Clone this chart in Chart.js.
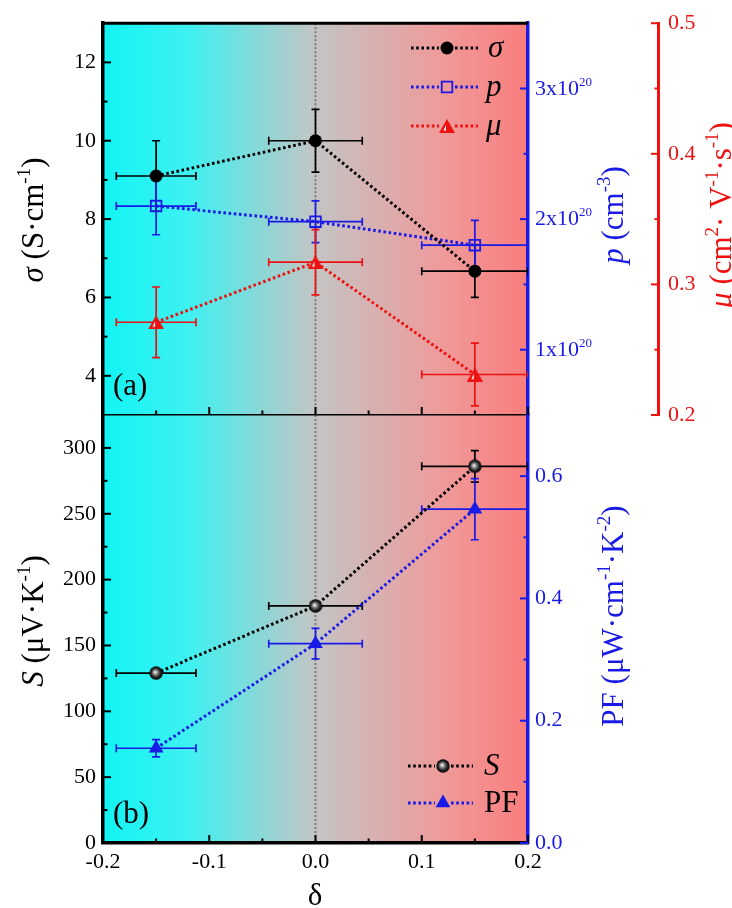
<!DOCTYPE html>
<html>
<head>
<meta charset="utf-8">
<script src="https://cdn.jsdelivr.net/npm/chart.js@4.4.0/dist/chart.umd.min.js"></script>
<style>
body { margin: 0; background: #fff; }
#wrap { position: relative; width: 732px; height: 908px; }
#wrap canvas { position: absolute; left: 0; top: 0; }
</style>
</head>
<body>
<div id="wrap">
	<canvas id="chartB" width="732" height="908"></canvas>
	<canvas id="chartA" width="732" height="440"></canvas>
</div>
<script>
// delta (x) values, shared by all series
var deltaVals = [-0.15, 0.0, 0.15];
var deltaErr = [0.0375, 0.044, 0.05];

// panel (a)
var sigmaVals = [9.1, 10.0, 6.67];
var sigmaErr = [0.9, 0.8, 0.67];
var pVals = [2.1e20, 1.98e20, 1.8e20];
var pErr = [0.22e20, 0.16e20, 0.19e20];
var muVals = [0.271, 0.317, 0.231];
var muErr = [0.027, 0.025, 0.024];

// panel (b)
var seebeckVals = [129, 180, 286];
var seebeckErr = [0, 0, 12];
var pfVals = [0.155, 0.326, 0.546];
var pfErr = [0.014, 0.025, 0.05];

// ticks
var deltaTicks = [-0.2, -0.1, 0, 0.1, 0.2];
var deltaMinor = [-0.15, -0.05, 0.05, 0.15];
var sigmaTicks = [4, 6, 8, 10, 12];
var sigmaMinor = [5, 7, 9, 11];
var pTicks = [1e20, 2e20, 3e20];
var pMinor = [1.5e20, 2.5e20];
var muTicks = [0.2, 0.3, 0.4, 0.5];
var muMinor = [0.25, 0.35, 0.45];
var seebeckTicks = [0, 50, 100, 150, 200, 250, 300];
var seebeckMinor = [25, 75, 125, 175, 225, 275];
var pfTicks = [0, 0.2, 0.4, 0.6];
var pfMinor = [0.1, 0.3, 0.5];

var BLUE = '#1a1ae6';
var RED = '#ee1111';
var SERIF = '"Liberation Serif", "Times New Roman", serif';

var pts = function(ys) {
	return deltaVals.map(function(x, i) { return {x: x, y: ys[i]}; });
};

// marker images
var halfTriangle = function(w, h, color) {
	var c = document.createElement('canvas');
	c.width = w; c.height = h;
	var g = c.getContext('2d');
	g.fillStyle = color;
	g.beginPath(); g.moveTo(w / 2, 0); g.lineTo(w, h); g.lineTo(0, h); g.closePath(); g.fill();
	g.fillStyle = '#fff';
	g.beginPath(); g.moveTo(w / 2 - 1, h * 0.45); g.lineTo(w / 2 - 1, h - 2.5); g.lineTo(4.5, h - 2.5); g.closePath(); g.fill();
	return c;
};
var sphere = function(d) {
	var c = document.createElement('canvas');
	c.width = d; c.height = d;
	var g = c.getContext('2d');
	var r = d / 2;
	var grd = g.createRadialGradient(r - 1, r - 1, 0.3, r, r, r);
	grd.addColorStop(0, '#f2f2f2');
	grd.addColorStop(0.3, '#8a8a8a');
	grd.addColorStop(0.65, '#222');
	grd.addColorStop(1, '#000');
	g.fillStyle = grd;
	g.beginPath(); g.arc(r, r, r - 0.3, 0, Math.PI * 2); g.fill();
	return c;
};
var muMarker = halfTriangle(16, 14, RED);
var sMarker = sphere(14);

// text with italic / superscript pieces
var fontFor = function(p, size) {
	return (p.it ? 'italic ' : '') + (p.sup ? Math.round(size * 0.6) : size) + 'px ' + SERIF;
};
var richText = function(ctx, parts, x, y, rot, size, color, align) {
	ctx.save();
	ctx.translate(x, y);
	ctx.rotate(rot);
	var w = 0;
	parts.forEach(function(p) { ctx.font = fontFor(p, size); w += ctx.measureText(p.t).width; });
	var cx = align === 'left' ? 0 : -w / 2;
	ctx.fillStyle = color;
	ctx.textAlign = 'left';
	ctx.textBaseline = 'alphabetic';
	parts.forEach(function(p) {
		ctx.font = fontFor(p, size);
		ctx.fillText(p.t, cx, p.sup ? size * 0.33 - size * 0.42 : size * 0.33);
		cx += ctx.measureText(p.t).width;
	});
	ctx.restore();
};

var drawMarker = function(ctx, ds, x, y) {
	var st = ds.pointStyle;
	if (typeof st !== 'string') {
		ctx.drawImage(st, x - st.width / 2, y - st.height / 2);
		return;
	}
	var r = ds.pointRadius;
	ctx.save();
	ctx.fillStyle = ds.pointBackgroundColor;
	ctx.strokeStyle = ds.pointBorderColor;
	ctx.lineWidth = ds.pointBorderWidth;
	ctx.beginPath();
	if (st === 'circle') {
		ctx.arc(x, y, r, 0, Math.PI * 2);
	} else if (st === 'rect') {
		var h = r * Math.SQRT1_2;
		ctx.rect(x - h, y - h, h * 2, h * 2);
	} else if (st === 'triangle') {
		ctx.moveTo(x, y - r);
		ctx.lineTo(x + r * 0.866, y + r * 0.5);
		ctx.lineTo(x - r * 0.866, y + r * 0.5);
		ctx.closePath();
	}
	ctx.fill();
	if (ds.pointBorderWidth > 0) ctx.stroke();
	ctx.restore();
};

var panelPlugin = {
	id: 'panel',
	beforeDraw: function(chart) {
		var ctx = chart.ctx, a = chart.chartArea;
		// background gradient
		ctx.save();
		var grd = ctx.createLinearGradient(a.left, 0, a.right, 0);
		grd.addColorStop(0, '#12f4f4');
		grd.addColorStop(0.2, '#3ef1f1');
		grd.addColorStop(0.5, '#c4c4c4');
		grd.addColorStop(0.8, '#ef9a9a');
		grd.addColorStop(1, '#fa7d7d');
		ctx.fillStyle = grd;
		ctx.fillRect(a.left, a.top, a.right - a.left, a.bottom - a.top);
		ctx.restore();
	},
	beforeDatasetsDraw: function(chart, args, opts) {
		var ctx = chart.ctx, a = chart.chartArea;
		ctx.save();
		// reference line at delta = 0
		var x0 = chart.scales.x.getPixelForValue(0);
		ctx.strokeStyle = '#7a7a7a';
		ctx.lineWidth = 2;
		ctx.setLineDash([2, 2]);
		ctx.beginPath(); ctx.moveTo(x0, a.top); ctx.lineTo(x0, a.bottom); ctx.stroke();
		ctx.setLineDash([]);
		// error bars
		ctx.beginPath(); ctx.rect(a.left, a.top, a.right - a.left, a.bottom - a.top); ctx.clip();
		chart.data.datasets.forEach(function(ds) {
			var ys = chart.scales[ds.yAxisID];
			var xs = chart.scales.x;
			ctx.strokeStyle = ds.errColor;
			ctx.lineWidth = 1.7;
			ds.data.forEach(function(pt, i) {
				var px = xs.getPixelForValue(pt.x), py = ys.getPixelForValue(pt.y);
				var xl = xs.getPixelForValue(pt.x - ds.errX[i]), xr = xs.getPixelForValue(pt.x + ds.errX[i]);
				ctx.beginPath();
				ctx.moveTo(xl, py); ctx.lineTo(xr, py);
				ctx.moveTo(xl, py - 4); ctx.lineTo(xl, py + 4);
				ctx.moveTo(xr, py - 4); ctx.lineTo(xr, py + 4);
				if (ds.errY[i] > 0) {
					var yt = ys.getPixelForValue(pt.y + ds.errY[i]), yb = ys.getPixelForValue(pt.y - ds.errY[i]);
					ctx.moveTo(px, yt); ctx.lineTo(px, yb);
					ctx.moveTo(px - 4, yt); ctx.lineTo(px + 4, yt);
					ctx.moveTo(px - 4, yb); ctx.lineTo(px + 4, yb);
				}
				ctx.stroke();
			});
		});
		ctx.restore();
	},
	afterDraw: function(chart, args, opts) {
		var ctx = chart.ctx, a = chart.chartArea;
		ctx.save();
		// inward ticks
		(opts.ticks || []).forEach(function(t) {
			var s = chart.scales[t.id];
			ctx.strokeStyle = t.color;
			ctx.lineWidth = 2;
			var mark = function(v, len) {
				var p = s.getPixelForValue(v);
				ctx.beginPath();
				if (t.side === 'left') { ctx.moveTo(a.left, p); ctx.lineTo(a.left + len, p); }
				else if (t.side === 'right') { ctx.moveTo(a.right, p); ctx.lineTo(a.right - len, p); }
				else if (t.side === 'outer') { ctx.moveTo(s.left, p); ctx.lineTo(s.left - len + 1, p); }
				else { ctx.moveTo(p, a.bottom); ctx.lineTo(p, a.bottom - len); }
				ctx.stroke();
			};
			t.major.forEach(function(v) { mark(v, 8); });
			t.minor.forEach(function(v) { mark(v, 4.5); });
		});
		// labels with superscript exponent
		if (opts.expLabels) {
			var es = chart.scales[opts.expLabels.id];
			opts.expLabels.values.forEach(function(v) {
				richText(ctx, [{t: Math.round(v / 1e20) + 'x10'}, {t: '20', sup: true}],
					a.right + 7, es.getPixelForValue(v) - 1, 0, 22, BLUE, 'left');
			});
		}
		// top frame
		if (opts.topBorder) {
			ctx.strokeStyle = '#000';
			ctx.lineWidth = 3;
			ctx.beginPath(); ctx.moveTo(a.left - 1.5, a.top); ctx.lineTo(a.right, a.top); ctx.stroke();
		}
		// legend
		(opts.legend || []).forEach(function(it) {
			var ds = chart.data.datasets[it.index];
			ctx.strokeStyle = ds.borderColor;
			ctx.lineWidth = ds.borderWidth;
			ctx.setLineDash(ds.borderDash);
			ctx.beginPath();
			ctx.moveTo(it.x0, it.y); ctx.lineTo(it.xm - 8, it.y);
			ctx.moveTo(it.xm + 8, it.y); ctx.lineTo(it.x1, it.y);
			ctx.stroke();
			ctx.setLineDash([]);
			drawMarker(ctx, ds, it.xm, it.y);
			ctx.font = (it.it ? 'italic ' : '') + '31px ' + SERIF;
			ctx.fillStyle = '#000';
			ctx.textAlign = 'left';
			ctx.textBaseline = 'middle';
			ctx.fillText(it.text, it.tx, it.y + 1);
		});
		// panel label
		ctx.font = '31px ' + SERIF;
		ctx.fillStyle = '#000';
		ctx.textAlign = 'left';
		ctx.textBaseline = 'middle';
		ctx.fillText(opts.label, a.left + 10, opts.labelY);
		// axis titles
		(opts.titles || []).forEach(function(tt) {
			richText(ctx, tt.parts, tt.x, tt.y, tt.rot, tt.size || 31, tt.color);
		});
		ctx.restore();
	}
};

var yAxis = function(pos, min, max, color, bw, width, list, fmt, pad, hideLabels) {
	return {
		type: 'linear',
		position: pos,
		min: min,
		max: max,
		grid: { display: false, drawTicks: false },
		border: { display: true, color: color, width: bw },
		ticks: {
			color: hideLabels ? 'rgba(0,0,0,0)' : color,
			padding: pad,
			autoSkip: false,
			font: { family: SERIF, size: 22 },
			callback: fmt
		},
		afterBuildTicks: function(s) { s.ticks = list.map(function(v) { return {value: v}; }); },
		afterFit: function(s) { s.width = width; }
	};
};

var lineSet = function(label, data, axis, color, style, radius, bg, bw, errY) {
	return {
		label: label,
		data: data,
		yAxisID: axis,
		borderColor: color,
		borderWidth: 3,
		borderDash: [2.6, 2.6],
		tension: 0,
		pointStyle: style,
		pointRadius: radius,
		pointBackgroundColor: bg,
		pointBorderColor: color,
		pointBorderWidth: bw,
		errColor: color,
		errX: deltaErr,
		errY: errY
	};
};

var baseOpts = function() {
	return {
		responsive: false,
		animation: false,
		events: [],
		plugins: { legend: { display: false }, tooltip: { enabled: false } }
	};
};

// ---- panel (a)
var optsA = baseOpts();
optsA.layout = { padding: { top: 17, bottom: 25, left: 0, right: 0 } };
optsA.scales = {
	x: {
		type: 'linear', position: 'bottom', min: -0.2, max: 0.2,
		grid: { display: false, drawTicks: false },
		border: { display: true, color: '#000', width: 1.5 },
		ticks: { display: false },
		afterFit: function(s) { s.height = 0; }
	},
	ySig: yAxis('left', 3, 13, '#000', 3.5, 103, sigmaTicks, function(v) { return String(v); }, 7),
	yP: yAxis('right', 0.5e20, 3.5e20, BLUE, 3.5, 130, pTicks, function(v) { return Math.round(v / 1e20) + 'x10^20'; }, 7, true),
	yM: yAxis('right', 0.2, 0.5, RED, 3, 74, muTicks, function(v) { return v.toFixed(1); }, 10)
};
optsA.plugins.panel = {
	topBorder: true,
	label: '(a)',
	labelY: 387,
	expLabels: { id: 'yP', values: pTicks },
	ticks: [
		{ id: 'x', side: 'bottom', color: '#000', major: deltaTicks, minor: deltaMinor },
		{ id: 'ySig', side: 'left', color: '#000', major: sigmaTicks, minor: sigmaMinor },
		{ id: 'yP', side: 'right', color: BLUE, major: pTicks, minor: pMinor },
		{ id: 'yM', side: 'outer', color: RED, major: muTicks, minor: muMinor }
	],
	legend: [
		{ index: 0, y: 48, x0: 411, xm: 447, x1: 478, tx: 488, text: '\u03C3', it: true },
		{ index: 1, y: 87, x0: 411, xm: 447, x1: 478, tx: 486, text: 'p', it: true },
		{ index: 2, y: 126, x0: 411, xm: 447, x1: 478, tx: 486, text: '\u03BC', it: true }
	],
	titles: [
		{ x: 33, y: 220, rot: -Math.PI / 2, color: '#000', parts: [{t: '\u03C3', it: true}, {t: ' (S\u00B7cm'}, {t: '-1', sup: true}, {t: ')'}] },
		{ x: 613, y: 215, rot: -Math.PI / 2, color: BLUE, parts: [{t: 'p', it: true}, {t: ' (cm'}, {t: '-3', sup: true}, {t: ')'}] },
		{ x: 721, y: 215, rot: -Math.PI / 2, color: RED, parts: [{t: '\u03BC', it: true}, {t: ' (cm'}, {t: '2', sup: true}, {t: '\u00B7 V'}, {t: '-1', sup: true}, {t: '\u00B7s'}, {t: '-1', sup: true}, {t: ')'}] }
	]
};

var chartA = new Chart(document.getElementById('chartA'), {
	type: 'line',
	data: {
		datasets: [
			lineSet('\u03C3', pts(sigmaVals), 'ySig', '#000', 'circle', 6.5, '#000', 0, sigmaErr),
			lineSet('p', pts(pVals), 'yP', BLUE, 'rect', 7.5, 'rgba(0,0,0,0)', 1.8, pErr),
			lineSet('\u03BC', pts(muVals), 'yM', RED, muMarker, 7, RED, 0, muErr)
		]
	},
	options: optsA,
	plugins: [panelPlugin]
});

// ---- panel (b)
var optsB = baseOpts();
optsB.layout = { padding: { top: 415, bottom: 0, left: 0, right: 74 } };
optsB.scales = {
	x: {
		type: 'linear', position: 'bottom', min: -0.2, max: 0.2,
		grid: { display: false, drawTicks: false },
		border: { display: true, color: '#000', width: 3.5 },
		ticks: {
			color: '#000', padding: 6, autoSkip: false, maxRotation: 0,
			font: { family: SERIF, size: 22 },
			callback: function(v) { return v.toFixed(1); }
		},
		afterBuildTicks: function(s) { s.ticks = deltaTicks.map(function(v) { return {value: v}; }); },
		afterFit: function(s) { s.height = 65; }
	},
	ySee: yAxis('left', 0, 325, '#000', 3.5, 103, seebeckTicks, function(v) { return String(v); }, 7),
	yPF: yAxis('right', 0, 0.7, BLUE, 3.5, 130, pfTicks, function(v) { return v.toFixed(1); }, 7)
};
optsB.plugins.panel = {
	topBorder: false,
	label: '(b)',
	labelY: 815,
	ticks: [
		{ id: 'x', side: 'bottom', color: '#000', major: deltaTicks, minor: deltaMinor },
		{ id: 'ySee', side: 'left', color: '#000', major: seebeckTicks, minor: seebeckMinor },
		{ id: 'yPF', side: 'right', color: BLUE, major: pfTicks, minor: pfMinor }
	],
	legend: [
		{ index: 0, y: 766, x0: 408, xm: 443, x1: 473, tx: 484, text: 'S', it: true },
		{ index: 1, y: 803, x0: 408, xm: 443, x1: 473, tx: 484, text: 'PF', it: false }
	],
	titles: [
		{ x: 33, y: 621, rot: -Math.PI / 2, color: '#000', parts: [{t: 'S', it: true}, {t: ' (\u03BCV\u00B7K'}, {t: '-1', sup: true}, {t: ')'}] },
		{ x: 613, y: 616, rot: -Math.PI / 2, color: BLUE, parts: [{t: 'PF (\u03BCW\u00B7cm'}, {t: '-1', sup: true}, {t: '\u00B7K'}, {t: '-2', sup: true}, {t: ')'}] },
		{ x: 315, y: 895, rot: 0, color: '#000', parts: [{t: '\u03B4'}] }
	]
};

var chartB = new Chart(document.getElementById('chartB'), {
	type: 'line',
	data: {
		datasets: [
			lineSet('S', pts(seebeckVals), 'ySee', '#000', sMarker, 7, '#000', 0, seebeckErr),
			lineSet('PF', pts(pfVals), 'yPF', BLUE, 'triangle', 8.5, BLUE, 0, pfErr)
		]
	},
	options: optsB,
	plugins: [panelPlugin]
});
</script>
</body>
</html>
